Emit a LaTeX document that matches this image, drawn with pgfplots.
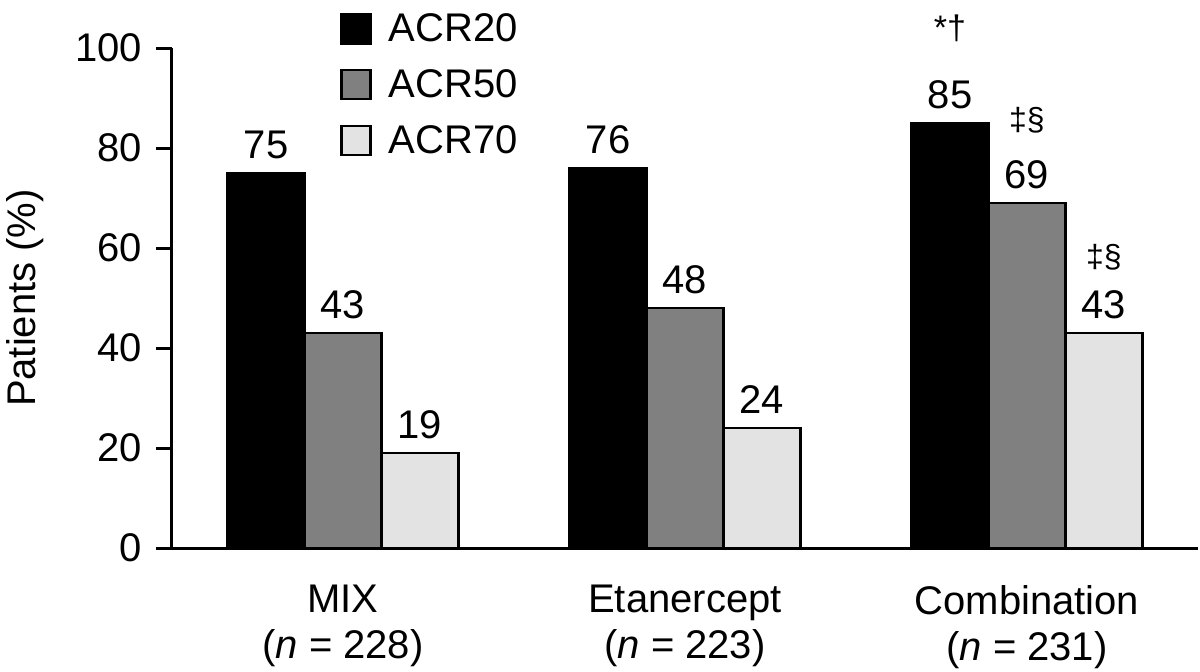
\documentclass[border=0pt]{standalone}
\usepackage{pgfplots}
\pgfplotsset{compat=1.18}
\usepackage{fontspec}
\setmainfont{Liberation Sans}
\definecolor{gmid}{gray}{0.5}
\definecolor{glight}{gray}{0.89}
\newcommand{\bigf}{\fontsize{20}{23}\selectfont}
\begin{document}
\begin{tikzpicture}
\begin{axis}[
  scale only axis, width=513pt, height=250pt,
  xmin=-0.5, xmax=2.5, ymin=0, ymax=100,
  clip=false,
  axis x line*=bottom, axis y line*=left,
  axis line style={line width=1.5pt, black},
  /pgf/number format/assume math mode=true,
  ytick={0,20,40,60,80,100},
  tick align=outside, major tick length=8pt,
  tick style={line width=1.5pt, black},
  xtick={0,1,2},
  xticklabels={MIX\\(\textit{n} = 228), Etanercept\\(\textit{n} = 223), Combination\\(\textit{n} = 231)},
  xtick style={draw=none},
  xticklabel style={align=center, font=\bigf, yshift=-7pt},
  yticklabel style={font=\bigf, xshift=-3.5pt},
  ylabel={Patients (\%)},
  ylabel style={at={(axis description cs:-0.1433,0.5)}, anchor=center, font=\bigf},
  ybar=0pt, bar width=0.225,
  nodes near coords,
  every node near coord/.append style={font=\bigf, anchor=south, inner sep=0pt, yshift=6.5pt, text=black},
  every axis plot post/.append style={legend image code/.code={\draw[#1] (0pt,-7.25pt) rectangle (14.5pt,7.25pt);}},
  legend style={at={(axis description cs:0.1637,1.078)}, anchor=north west, draw=none, fill=none, font=\bigf, row sep=8.5pt, inner sep=0pt, column sep=6.5pt},
  legend cell align=left,
]
\addplot[fill=black, draw=black, line width=1.2pt] coordinates {(0,75) (1,76) (2,85)};
\addplot[fill=gmid, draw=black, line width=1.2pt] coordinates {(0,43) (1,48) (2,69)};
\addplot[fill=glight, draw=black, line width=1.2pt] coordinates {(0,19) (1,24) (2,43)};
\legend{ACR20, ACR50, ACR70}
\node[font=\fontsize{17}{20}\selectfont] at (axis cs:1.775,104) {*†};
\node[font=\fontsize{16}{20}\selectfont] at (axis cs:2,85.6) {‡§};
\node[font=\fontsize{16}{20}\selectfont] at (axis cs:2.225,58.2) {‡§};
\end{axis}
\pgfresetboundingbox
\path[use as bounding box] (-86pt,-61.5pt) rectangle (514pt,274pt);
\end{tikzpicture}
\end{document}
